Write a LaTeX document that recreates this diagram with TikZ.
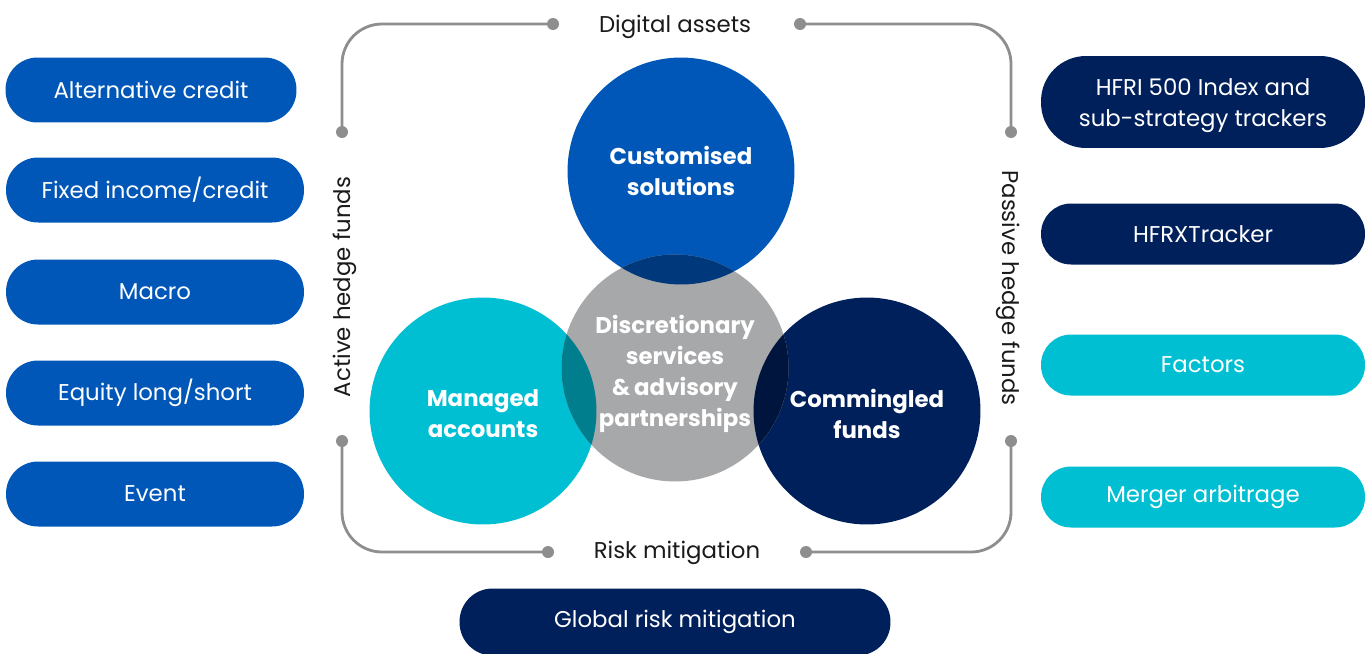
\documentclass[tikz,border=0pt]{standalone}
\usepackage{fontspec}
\setmainfont{Poppins}
\usetikzlibrary{positioning}
\definecolor{hblue}{HTML}{0057B8}
\definecolor{hnavy}{HTML}{00205B}
\definecolor{hcyan}{HTML}{00BFD3}
\definecolor{hgray}{HTML}{A7A8AA}
\definecolor{hline}{HTML}{8E8E8E}
\definecolor{hink}{HTML}{1A1A1A}
\definecolor{ovblue}{HTML}{00397B}
\definecolor{ovcyan}{HTML}{007E8D}
\definecolor{ovnavy}{HTML}{00153D}
\tikzset{
  pill/.style={rectangle,rounded corners=0.64cm,inner sep=0pt,text=white,align=center,
    font=\fontsize{13}{17.6}\selectfont,minimum height=1.3cm},
  bubble/.style={circle,inner sep=0pt,minimum size=4.54cm,text=white,align=center,
    font=\fontsize{13}{17.6}\selectfont\bfseries},
  dot/.style={circle,fill=hline,inner sep=0pt,minimum size=0.24cm},
  bracket/.style={hline,line width=1.6pt,rounded corners=0.8cm},
  tag/.style={text=hink,font=\fontsize{13}{16}\selectfont}
}

\begin{document}
\begin{tikzpicture}[x=0.02cm,y=-0.02cm]
    \useasboundingbox (0,0) rectangle (1371,653);

    % active hedge funds
    \node[pill,fill=hblue,minimum width=5.82cm] (alt) at (151,90) {Alternative credit};
    \node[pill,fill=hblue,minimum width=5.96cm] (fixed) at (155,190) {Fixed income/credit};
    \node[pill,fill=hblue,minimum width=5.96cm] (macro) at (155,292) {Macro};
    \node[pill,fill=hblue,minimum width=5.96cm] (equity) at (155,393) {Equity long/short};
    \node[pill,fill=hblue,minimum width=5.96cm] (event) at (155,494) {Event};

    % passive hedge funds
    \node[pill,fill=hnavy,minimum width=6.48cm,minimum height=1.84cm,rounded corners=0.9cm] (hfri) at (1203,102) {};
    \node[align=center,text=white,font=\fontsize{13}{17.6}\selectfont] at ([yshift=-0.08cm]hfri.center) {HFRI 500 Index and\\sub-strategy trackers};
    \node[pill,fill=hnavy,minimum width=6.48cm,minimum height=1.22cm,rounded corners=0.6cm] (hfrx) at (1203,234) {HFRXTracker};
    \node[pill,fill=hcyan,minimum width=6.48cm,minimum height=1.22cm,rounded corners=0.6cm] (factors) at (1203,365) {Factors};
    \node[pill,fill=hcyan,minimum width=6.48cm,minimum height=1.22cm,rounded corners=0.6cm] (merger) at (1203,497) {Merger arbitrage};

    \node[pill,fill=hnavy,minimum width=8.62cm,minimum height=1.34cm,rounded corners=0.66cm] (global) at (675,622) {Global risk mitigation};

    % the four circles
    \node[bubble,fill=hblue] (custom) at (681,171) {Customised\\solutions};
    \node[bubble,fill=hcyan] (managed) at (483,411) {};
    \node[bubble,fill=hnavy] (commingled) at (867,411) {};
    \node[bubble,fill=hgray] (disc) at (675,368) {};

    \begin{scope}
      \clip (disc.center) circle[radius=2.27cm];
      \fill[ovblue] (custom.center) circle[radius=2.27cm];
      \fill[ovcyan] (managed.center) circle[radius=2.27cm];
      \fill[ovnavy] (commingled.center) circle[radius=2.27cm];
    \end{scope}
    \node[bubble] at ([yshift=-0.12cm]disc.center) {Discretionary\\services\\\&\,advisory\\partnerships};
    \node[bubble] at ([yshift=-0.06cm]managed.center) {Managed\\accounts};
    \node[bubble] at ([yshift=-0.06cm]commingled.center) {Commingled\\funds};

    % brackets
    \node[dot] (tl1) at (342,132) {};
    \node[dot] (tl2) at (553,24) {};
    \node[dot] (tr1) at (800,24) {};
    \node[dot] (tr2) at (1011,132) {};
    \node[dot] (bl1) at (342,441) {};
    \node[dot] (bl2) at (548,552) {};
    \node[dot] (br1) at (806,552) {};
    \node[dot] (br2) at (1011,441) {};
    \draw[bracket] (tl1.center) |- (tl2.center);
    \draw[bracket] (tr1.center) -| (tr2.center);
    \draw[bracket] (bl1.center) |- (bl2.center);
    \draw[bracket] (br1.center) -| (br2.center);

    \node[tag] (digital) at (675,27) {Digital assets};
    \node[tag] (risk) at (677,553) {Risk mitigation};
    \node[tag,rotate=90] (active) at (345,287) {Active hedge funds};
    \node[tag,rotate=-90] (passive) at (1008,288) {Passive hedge funds};
\end{tikzpicture}
\end{document}
